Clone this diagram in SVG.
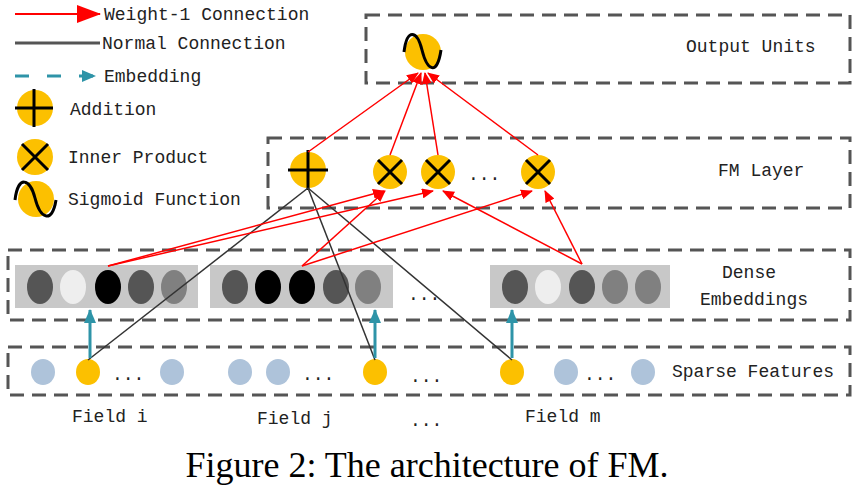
<svg xmlns="http://www.w3.org/2000/svg" width="864" height="491" viewBox="0 0 864 491">
<defs>
<marker id="ar" markerWidth="12" markerHeight="10" refX="11" refY="5" orient="auto" markerUnits="userSpaceOnUse"><path d="M0,0L12,5L0,10Z" fill="#f00"/></marker>
<marker id="at" markerWidth="14" markerHeight="12" refX="13" refY="6" orient="auto" markerUnits="userSpaceOnUse"><path d="M0,0L14,6L0,12Z" fill="#2e94a8"/></marker>
<marker id="arl" markerWidth="24" markerHeight="18" refX="23" refY="9" orient="auto" markerUnits="userSpaceOnUse"><path d="M0,0L24,9L0,18Z" fill="#f00"/></marker>
</defs>
<style>
.box{fill:none;stroke:#555;stroke-width:3;stroke-dasharray:14 8}
.t{font-family:"Liberation Mono",monospace;font-size:18px;fill:#222}
.y{fill:#fcc000}
.sym{fill:none;stroke:#000;stroke-width:3}
.red{stroke:#f00;stroke-width:1.5;fill:none;marker-end:url(#ar)}
.blk{stroke:#333;stroke-width:1.5;fill:none}
.teal{stroke:#2e94a8;stroke-width:3;fill:none;marker-end:url(#at)}
.g{fill:#c8c8c8}
.sp{fill:#aec3da}
</style>
<rect width="864" height="491" fill="#fff"/>
<g id="legend">
<line x1="15" y1="14" x2="100" y2="14" stroke="#f00" stroke-width="2" marker-end="url(#arl)"/>
<text class="t" x="104" y="20">Weight-1 Connection</text>
<line x1="15" y1="43" x2="100" y2="43" stroke="#555" stroke-width="3"/>
<text class="t" x="102" y="49">Normal Connection</text>
<line x1="15" y1="76" x2="95" y2="76" stroke="#2e94a8" stroke-width="3" stroke-dasharray="14 18" marker-end="url(#at)"/>
<text class="t" x="104" y="82">Embedding</text>
<circle class="y" cx="35" cy="108" r="18"/><path class="sym" d="M15,108H53M34,89V127"/>
<text class="t" x="70" y="115">Addition</text>
<circle class="y" cx="35" cy="157" r="18"/><path class="sym" d="M22,144L48,170M48,144L22,170"/>
<text class="t" x="68" y="163">Inner Product</text>
<circle class="y" cx="36" cy="199" r="18"/><path class="sym" d="M15,200C18,175 30,178 35,198S52,225 56,200"/>
<text class="t" x="68" y="205">Sigmoid Function</text>
</g>
<g id="output">
<rect class="box" x="366" y="15" width="484" height="68"/>
<text class="t" x="686" y="52">Output Units</text>
<circle class="y" cx="423" cy="52" r="18"/><path class="sym" d="M404,52C407,28 417,30 422,50S437,77 441,50"/>
</g>
<g id="fm">
<rect class="box" x="268" y="138" width="582" height="70"/>
<text class="t" x="718" y="176">FM Layer</text>
<circle class="y" cx="308" cy="170" r="18"/><path class="sym" d="M288,170H328M308,150V190"/>
<circle class="y" cx="390" cy="172" r="17"/><path class="sym" d="M378,160L402,184M402,160L378,184"/>
<circle class="y" cx="438" cy="172" r="17"/><path class="sym" d="M426,160L450,184M450,160L426,184"/>
<text class="t" x="468" y="180">...</text>
<circle class="y" cx="538" cy="172" r="17"/><path class="sym" d="M526,160L550,184M550,160L526,184"/>
</g>
<g id="dense">
<rect class="box" x="8" y="250" width="842" height="70"/>
<text class="t" x="722" y="278">Dense</text>
<text class="t" x="700" y="305">Embeddings</text>
<rect class="g" x="15" y="265" width="183" height="43"/>
<rect class="g" x="210" y="265" width="183" height="43"/>
<rect class="g" x="490" y="265" width="180" height="43"/>
<ellipse cx="40" cy="287" rx="13" ry="17" fill="#555"/>
<ellipse cx="73" cy="287" rx="13" ry="17" fill="#eee"/>
<ellipse cx="108" cy="287" rx="13" ry="17" fill="#000"/>
<ellipse cx="141" cy="287" rx="13" ry="17" fill="#555"/>
<ellipse cx="174" cy="287" rx="13" ry="17" fill="#808080"/>
<ellipse cx="235" cy="287" rx="13" ry="17" fill="#555"/>
<ellipse cx="268" cy="287" rx="13" ry="17" fill="#000"/>
<ellipse cx="302" cy="287" rx="13" ry="17" fill="#000"/>
<ellipse cx="336" cy="287" rx="13" ry="17" fill="#555"/>
<ellipse cx="368" cy="287" rx="13" ry="17" fill="#808080"/>
<ellipse cx="515" cy="287" rx="13" ry="17" fill="#555"/>
<ellipse cx="548" cy="287" rx="13" ry="17" fill="#eee"/>
<ellipse cx="582" cy="287" rx="13" ry="17" fill="#555"/>
<ellipse cx="615" cy="287" rx="13" ry="17" fill="#808080"/>
<ellipse cx="648" cy="287" rx="13" ry="17" fill="#808080"/>
<text class="t" x="408" y="300">...</text>
</g>
<g id="sparse">
<rect class="box" x="8" y="347" width="842" height="48"/>
<text class="t" x="672" y="377">Sparse Features</text>
<ellipse class="sp" cx="43" cy="372" rx="12" ry="13"/>
<ellipse class="y" cx="88" cy="372" rx="12" ry="13"/>
<text class="t" x="112" y="380">...</text>
<ellipse class="sp" cx="172" cy="372" rx="12" ry="13"/>
<ellipse class="sp" cx="240" cy="372" rx="12" ry="13"/>
<ellipse class="sp" cx="278" cy="372" rx="12" ry="13"/>
<text class="t" x="302" y="380">...</text>
<ellipse class="y" cx="375" cy="372" rx="12" ry="13"/>
<text class="t" x="410" y="382">...</text>
<ellipse class="y" cx="512" cy="372" rx="12" ry="13"/>
<ellipse class="sp" cx="566" cy="372" rx="12" ry="13"/>
<text class="t" x="584" y="380">...</text>
<ellipse class="sp" cx="643" cy="372" rx="12" ry="13"/>
</g>
<g id="labels">
<text class="t" x="72" y="422">Field i</text>
<text class="t" x="257" y="424">Field j</text>
<text class="t" x="410" y="426">...</text>
<text class="t" x="525" y="422">Field m</text>
<text x="427" y="477" text-anchor="middle" font-family="Liberation Serif,serif" font-size="36" fill="#000">Figure 2: The architecture of FM.</text>
</g>
<g id="connectors">
<line class="blk" x1="88" y1="360" x2="308" y2="188"/>
<line class="blk" x1="375" y1="360" x2="308" y2="188"/>
<line class="blk" x1="512" y1="360" x2="308" y2="188"/>
<line class="teal" x1="90" y1="358" x2="90" y2="310"/>
<line class="teal" x1="375" y1="358" x2="375" y2="310"/>
<line class="teal" x1="512" y1="358" x2="512" y2="310"/>
<line class="red" x1="108" y1="266" x2="384" y2="191"/>
<line class="red" x1="108" y1="266" x2="433" y2="191"/>
<line class="red" x1="302" y1="266" x2="385" y2="191"/>
<line class="red" x1="302" y1="266" x2="532" y2="191"/>
<line class="red" x1="582" y1="264" x2="443" y2="191"/>
<line class="red" x1="582" y1="264" x2="545" y2="191"/>
<line class="red" x1="308" y1="152" x2="418" y2="73"/>
<line class="red" x1="390" y1="155" x2="421" y2="73"/>
<line class="red" x1="438" y1="155" x2="425" y2="73"/>
<line class="red" x1="538" y1="155" x2="428" y2="73"/>
</g>
</svg>
